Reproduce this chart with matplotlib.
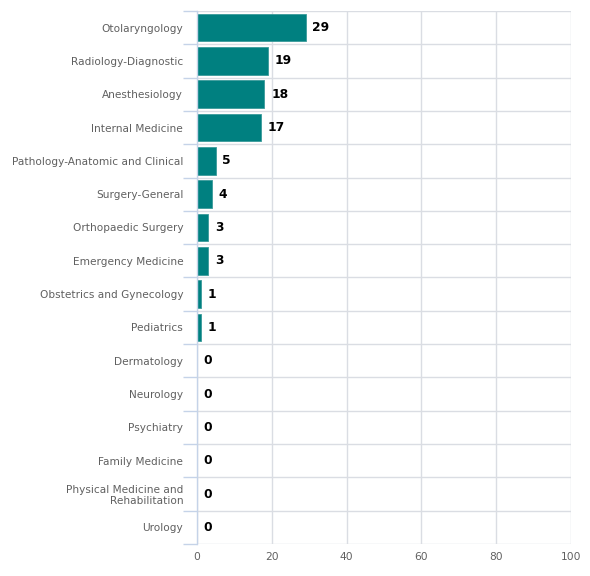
import matplotlib

matplotlib.use("Agg")

import matplotlib.pyplot as plt
import numpy as np

specialties = [
    "Otolaryngology",
    "Radiology-Diagnostic",
    "Anesthesiology",
    "Internal Medicine",
    "Pathology-Anatomic and Clinical",
    "Surgery-General",
    "Orthopaedic Surgery",
    "Emergency Medicine",
    "Obstetrics and Gynecology",
    "Pediatrics",
    "Dermatology",
    "Neurology",
    "Psychiatry",
    "Family Medicine",
    "Physical Medicine and\nRehabilitation",
    "Urology",
]
counts = [29, 19, 18, 17, 5, 4, 3, 3, 1, 1, 0, 0, 0, 0, 0, 0]
x_ticks = [0, 20, 40, 60, 80, 100]

BAR_COLOR = "#008080"
GRID_COLOR = "#dadde3"
AXIS_COLOR = "#c5d3e8"
LABEL_COLOR = "#606060"

fig = plt.figure(figsize=(5.9, 5.76), dpi=100)
ax = fig.add_axes([0.334, 0.0556, 0.634, 0.9254])

n = len(specialties)
y = np.arange(n)
ax.barh(y, counts, height=0.83, color=BAR_COLOR, edgecolor="#3a9a9a", linewidth=0.6, zorder=3)

for yi, v in zip(y, counts):
    ax.text(v + 1.8, yi, str(v), va="center", ha="left", fontsize=8.8,
            fontweight="bold", color="black", zorder=4)

ax.set_xlim(0, 100)
ax.set_ylim(n - 0.5, -0.5)
ax.set_xticks(x_ticks)
ax.set_xticklabels([str(t) for t in x_ticks])
ax.set_yticks(y)
ax.set_yticklabels(specialties, fontsize=7.6, color=LABEL_COLOR, linespacing=1.1)

# category boundaries as horizontal grid lines
bounds = np.arange(-0.5, n + 0.5, 1.0)
ax.set_yticks(bounds, minor=True)
ax.grid(axis="y", which="minor", color=GRID_COLOR, linewidth=1.0, zorder=0)
ax.grid(axis="x", which="major", color=GRID_COLOR, linewidth=1.0, zorder=0)
ax.tick_params(axis="y", which="major", length=0, pad=10)
ax.tick_params(axis="y", which="minor", length=10, color=AXIS_COLOR, width=1.0)
ax.tick_params(axis="x", length=0, labelsize=7.7, labelcolor=LABEL_COLOR, pad=6)

for side in ["top", "right", "bottom"]:
    ax.spines[side].set_visible(False)
ax.spines["left"].set_color(AXIS_COLOR)
ax.spines["left"].set_linewidth(1.0)
ax.spines["left"].set_zorder(5)

fig.savefig("out.png", dpi=100)
plt.close(fig)
